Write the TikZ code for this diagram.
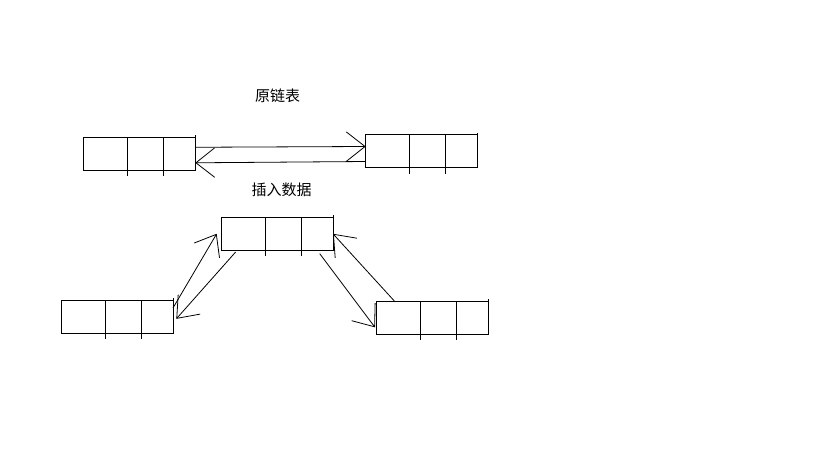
\documentclass[tikz,border=0pt]{standalone}
\usepackage{fontspec}
\newfontfamily\cjk{Noto Sans CJK SC}
\usetikzlibrary{arrows.meta}
\usetikzlibrary{positioning}

\begin{document}
\begin{tikzpicture}[x=0.75pt,y=-0.75pt,line width=0.75pt,
  cellbox/.style={draw, minimum width=84pt, minimum height=24.75pt, inner sep=0pt, outer sep=0pt, anchor=north west},
  linkarr/.style={-{Straight Barb[length=14pt,width=22pt]}, line width=0.6pt},
  caption/.style={font=\cjk\fontsize{11.25}{13}\selectfont, inner sep=0pt}]
\fill[white] (0,0) rectangle (819,460);
\useasboundingbox (0,0) rectangle (819,460);

% original list
\node[caption] (orig) at (277.5,96) {原链表};
\node[cellbox] (a) at (83.3,137.3) {};
\node[cellbox] (b) at (365.7,135) {};

% after insert
\node[caption] (ins) at (281.7,190) {插入数据};
\node[cellbox] (m) at (221,217.3) {};
\node[cellbox] (c) at (61,300) {};
\node[cellbox] (r) at (376,301) {};

% cell dividers
\foreach \n in {a,b,m,c,r}{
  \draw (\n.north west) ++(44,0) -- ++(0,39);
  \draw (\n.north west) ++(80,0) -- ++(0,39);
  \draw (\n.north east) -- ++(0,-2);
}

% links
\draw[linkarr] ([yshift=4.9pt]a.east) -- ([yshift=3.75pt]b.west);
\draw[linkarr] ([yshift=-7.5pt]b.west) -- ([yshift=-6.75pt]a.east);
\draw[linkarr] ([yshift=-6pt]c.north east) -- ([xshift=-3.25pt]m.west);
\draw[linkarr] ([xshift=11pt,yshift=-1.25pt]m.south west) -- ([xshift=2.5pt,yshift=-1.75pt]c.east);
\draw[linkarr] ([xshift=-10pt,yshift=-2.5pt]m.south east) -- ([xshift=-0.75pt,yshift=5pt]r.south west);
\draw[linkarr] ([xshift=13.75pt]r.north west) -- (m.east);
\end{tikzpicture}
\end{document}
